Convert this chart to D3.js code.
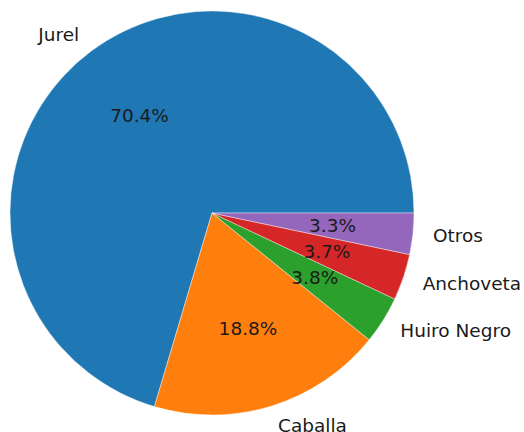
<!DOCTYPE html>
<html>
<head>
<meta charset="utf-8">
<script src="https://cdn.jsdelivr.net/npm/d3@7"></script>
<style>
  body { margin: 0; background: #fff; }
  text { font-family: "DejaVu Sans", sans-serif; font-size: 18.5px; fill: #1a1a1a; }
</style>
</head>
<body>
<div id="chart"></div>
<script>
var svgWidth = 524;
var svgHeight = 432;

// data
var labels = ["Jurel", "Caballa", "Huiro Negro", "Anchoveta", "Otros"];
var shares = [70.4, 18.8, 3.8, 3.7, 3.3];
var colors = ["#1f77b4", "#ff7f0e", "#2ca02c", "#d62728", "#9467bd"];

var cx = 212, cy = 213, radius = 202;

var svg = d3.select("#chart")
  .append("svg")
  .attr("width", svgWidth)
  .attr("height", svgHeight);

var g = svg.append("g")
  .attr("transform", `translate(${cx}, ${cy})`);

// matplotlib style: start at 3 o'clock, go counterclockwise
var pie = d3.pie()
  .sort(null)
  .startAngle(Math.PI / 2)
  .endAngle(Math.PI / 2 - 2 * Math.PI);

var arcs = pie(shares);

var arc = d3.arc().innerRadius(0).outerRadius(radius);
var labelArc = d3.arc().innerRadius(radius * 1.1).outerRadius(radius * 1.1);
var pctArc = d3.arc().innerRadius(radius * 0.6).outerRadius(radius * 0.6);

g.selectAll("path")
  .data(arcs)
  .enter()
  .append("path")
  .attr("d", arc)
  .attr("fill", (d, i) => colors[i])
  .attr("stroke", "#fff")
  .attr("stroke-width", 0.4);

g.selectAll(".label")
  .data(arcs)
  .enter()
  .append("text")
  .attr("class", "label")
  .attr("x", d => labelArc.centroid(d)[0])
  .attr("y", d => labelArc.centroid(d)[1])
  .attr("dy", "0.35em")
  .attr("text-anchor", d => labelArc.centroid(d)[0] > 0 ? "start" : "end")
  .text((d, i) => labels[i]);

g.selectAll(".pct")
  .data(arcs)
  .enter()
  .append("text")
  .attr("class", "pct")
  .attr("x", d => pctArc.centroid(d)[0])
  .attr("y", d => pctArc.centroid(d)[1])
  .attr("dy", "0.35em")
  .attr("text-anchor", "middle")
  .text(d => d.data.toFixed(1) + "%");
</script>
</body>
</html>
